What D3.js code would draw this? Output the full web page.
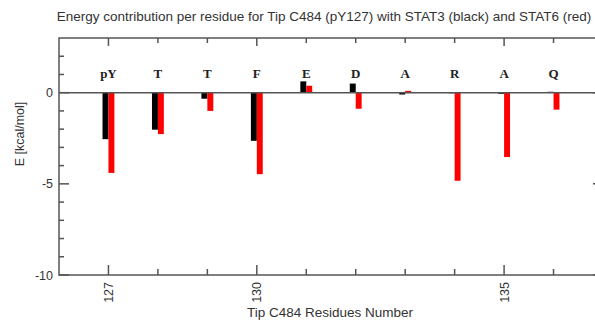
<!DOCTYPE html>
<html><head><meta charset="utf-8">
<script src="https://cdn.jsdelivr.net/npm/d3@7"></script>
<style>body{margin:0;background:#fff}svg{display:block}</style>
</head><body><svg id="c" width="595" height="321"></svg>
<script>
const residues = [127,128,129,130,131,132,133,134,135,136];
const residueNames = ["pY","T","T","F","E","D","A","R","A","Q"];
const stat3 = [-2.55,-2.03,-0.33,-2.64,0.62,0.5,-0.1,-0.03,-0.06,0.05];
const stat6 = [-4.4,-2.27,-1.0,-4.47,0.38,-0.88,0.1,-4.83,-3.53,-0.93];
const xMajor = [127,130,135];
const yMajor = [-10,-5,0];
const title = "Energy contribution per residue for Tip C484 (pY127) with STAT3 (black) and STAT6 (red)";

const svg = d3.select("#c");
const L=59, R=603, T=38, B=275;
const x = d3.scaleLinear().domain([126,137]).range([L,R]);
const y = d3.scaleLinear().domain([-10,3]).range([B,T]);
const axisCol="#555";
const bw = 0.12;
const sans = "Liberation Sans, Arial, sans-serif";

// frame
svg.append("rect").attr("x",L).attr("y",T).attr("width",R-L).attr("height",B-T)
  .attr("fill","none").attr("stroke",axisCol).attr("stroke-width",1.5);

// bars
const data = residues.map((r,i)=>({r,s3:stat3[i],s6:stat6[i],name:residueNames[i]}));
svg.append("g").selectAll("rect").data(data).join("rect")
  .attr("x",d=>x(d.r-bw)).attr("width",d=>x(d.r)-x(d.r-bw))
  .attr("y",d=>y(Math.max(0,d.s3))).attr("height",d=>Math.abs(y(d.s3)-y(0)))
  .attr("fill","#000");
svg.append("g").selectAll("rect").data(data).join("rect")
  .attr("x",d=>x(d.r)).attr("width",d=>x(d.r+bw)-x(d.r))
  .attr("y",d=>y(Math.max(0,d.s6))).attr("height",d=>Math.abs(y(d.s6)-y(0)))
  .attr("fill","#f00");

// zero line
svg.append("line").attr("x1",L).attr("x2",R).attr("y1",y(0)).attr("y2",y(0))
  .attr("stroke",axisCol).attr("stroke-width",1.5);

// x ticks
const xt = d3.range(127,137);
xt.forEach(v=>{
  const maj = xMajor.includes(v);
  svg.append("line").attr("x1",x(v)).attr("x2",x(v)).attr("y1",B).attr("y2",B-(maj?10:6)).attr("stroke",axisCol).attr("stroke-width",1.5);
  svg.append("line").attr("x1",x(v)).attr("x2",x(v)).attr("y1",T).attr("y2",T+(maj?8:5)).attr("stroke",axisCol).attr("stroke-width",1.5);
});
xMajor.forEach(v=>{
  svg.append("text").attr("transform",`translate(${x(v)+4.5},${B+7}) rotate(-90)`)
    .attr("text-anchor","end").attr("font-family",sans)
    .attr("font-size",12.5).attr("fill","#333").text(v);
});

// y ticks
d3.range(-10,3).forEach(v=>{
  const maj = yMajor.includes(v);
  svg.append("line").attr("x1",L).attr("x2",L+(maj?10:5)).attr("y1",y(v)).attr("y2",y(v)).attr("stroke",axisCol).attr("stroke-width",1.5);
  svg.append("line").attr("x1",R).attr("x2",R-(maj?10:5)).attr("y1",y(v)).attr("y2",y(v)).attr("stroke",axisCol).attr("stroke-width",1.5);
});
yMajor.forEach(v=>{
  svg.append("text").attr("x",L-6).attr("y",y(v)+4.5).attr("text-anchor","end")
    .attr("font-family",sans).attr("font-size",12.5).attr("fill","#333").text(v);
});

// residue labels
svg.append("g").selectAll("text").data(data).join("text")
  .attr("x",d=>x(d.r)).attr("y",78).attr("text-anchor","middle")
  .attr("font-family","Liberation Serif, Times New Roman, serif").attr("font-weight","bold")
  .attr("font-size",13).attr("fill","#222").text(d=>d.name);

// title & labels
svg.append("text").attr("x",324).attr("y",21).attr("text-anchor","middle")
  .attr("font-family",sans).attr("font-size",13.5).attr("fill","#333").text(title);
svg.append("text").attr("x",330).attr("y",317).attr("text-anchor","middle")
  .attr("font-family",sans).attr("font-size",13.5).attr("fill","#333").text("Tip C484 Residues Number");
svg.append("text").attr("transform",`translate(24,134) rotate(-90)`).attr("text-anchor","middle")
  .attr("font-family",sans).attr("font-size",12.5).attr("fill","#333").text("E [kcal/mol]");
</script></body></html>
